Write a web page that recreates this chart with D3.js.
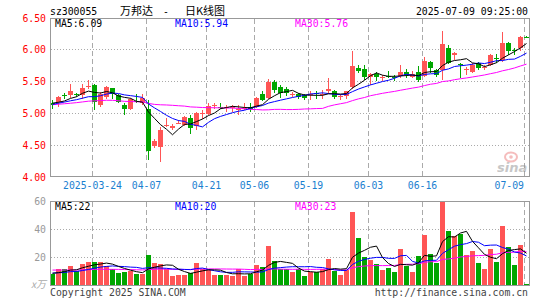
<!DOCTYPE html>
<html>
<head>
<meta charset="utf-8">
<script src="https://cdn.jsdelivr.net/npm/d3@7"></script>
<style>
body { margin: 0; background: #fff; }
svg text { font-family: "DejaVu Sans Mono", monospace; font-size: 9.8px; }
</style>
</head>
<body>
<script>
// trading days shown (2025)
var dates = ["03-13","03-14","03-17","03-18","03-19","03-20","03-21","03-24","03-25","03-26",
    "03-27","03-28","03-31","04-01","04-02","04-03","04-07","04-08","04-09","04-10",
    "04-11","04-14","04-15","04-16","04-17","04-18","04-21","04-22","04-23","04-24",
    "04-25","04-28","04-29","04-30","05-06","05-07","05-08","05-09","05-12","05-13",
    "05-14","05-15","05-16","05-19","05-20","05-21","05-22","05-23","05-26","05-27",
    "05-28","05-29","05-30","06-03","06-04","06-05","06-06","06-09","06-10","06-11",
    "06-12","06-13","06-16","06-17","06-18","06-19","06-20","06-23","06-24","06-25",
    "06-26","06-27","06-30","07-01","07-02","07-03","07-04","07-07","07-08","07-09"];

var open = [5.16,5.17,5.28,5.28,5.30,5.28,5.41,5.43,5.13,5.25,
    5.39,5.28,5.12,5.06,5.18,5.15,5.07,4.48,4.47,4.80,
    4.76,4.83,4.82,4.92,4.79,4.99,4.99,5.12,5.10,5.09,
    5.08,5.06,5.07,5.09,5.10,5.29,5.23,5.49,5.40,5.38,
    5.29,5.30,5.275,5.28,5.31,5.29,5.34,5.34,5.255,5.27,
    5.40,5.70,5.68,5.56,5.61,5.555,5.575,5.565,5.58,5.64,
    5.57,5.635,5.58,5.79,5.67,5.67,6.02,5.91,5.77,5.675,
    5.635,5.78,5.70,5.75,5.86,5.83,6.09,5.99,6.01,6.195];

var high = [5.20,5.27,5.32,5.45,5.32,5.45,5.51,5.46,5.33,5.42,
    5.39,5.30,5.16,5.23,5.30,5.30,5.20,4.60,4.78,4.92,
    4.83,4.89,4.95,4.97,5.02,5.05,5.15,5.16,5.15,5.125,
    5.12,5.12,5.15,5.15,5.245,5.34,5.53,5.52,5.43,5.40,
    5.33,5.31,5.30,5.34,5.35,5.36,5.54,5.36,5.29,5.35,
    5.97,5.745,5.745,5.625,5.635,5.60,5.66,5.60,5.745,5.69,
    5.65,5.74,5.88,5.81,5.69,6.28,6.06,5.96,5.78,5.72,
    5.78,5.80,5.75,5.92,5.92,6.27,6.11,6.02,6.20,6.20];

var low = [5.06,5.09,5.22,5.23,5.25,5.22,5.38,5.04,5.09,5.22,
    5.22,5.15,4.97,5.04,5.15,5.13,4.26,4.45,4.23,4.78,
    4.74,4.83,4.80,4.67,4.73,4.91,4.97,5.07,5.06,5.02,
    5.02,4.97,5.05,5.01,5.08,5.18,5.22,5.31,5.24,5.27,
    5.25,5.22,5.21,5.21,5.22,5.22,5.29,5.22,5.21,5.22,
    5.38,5.625,5.52,5.43,5.495,5.495,5.54,5.505,5.55,5.55,
    5.55,5.49,5.57,5.62,5.57,5.52,5.76,5.83,5.54,5.60,
    5.62,5.67,5.67,5.74,5.78,5.80,5.90,5.90,5.97,6.18];

var close = [5.12,5.25,5.27,5.34,5.29,5.39,5.42,5.17,5.29,5.41,
    5.29,5.17,5.06,5.22,5.17,5.23,4.40,4.56,4.73,4.81,
    4.80,4.84,4.93,4.76,5.00,5.00,5.11,5.13,5.09,5.10,
    5.09,5.07,5.08,5.07,5.23,5.20,5.49,5.36,5.31,5.31,
    5.30,5.255,5.235,5.29,5.30,5.30,5.375,5.245,5.26,5.34,
    5.74,5.66,5.56,5.61,5.56,5.565,5.57,5.56,5.64,5.59,
    5.61,5.515,5.81,5.70,5.60,6.08,5.78,5.94,5.76,5.685,
    5.75,5.71,5.72,5.90,5.85,6.10,5.97,5.98,6.19,6.19];

// volume, x10k
var volume = [7.9,11.4,11.4,13.8,9.8,15.2,16.7,16.7,16.4,13.3,
    11.4,8.6,9.5,10.2,7.9,7.9,21.7,15.7,15.0,11.4,
    6.7,7.4,7.4,8.6,15.7,11.4,11.0,7.4,7.4,7.4,
    6.7,11.4,6.7,7.9,14.5,12.9,28.1,17.4,11.2,11.2,
    9.3,11.4,6.4,9.3,9.3,11.4,18.6,10.2,7.1,11.0,
    52.1,33.6,20.0,18.1,15.2,11.0,12.4,9.5,25.7,13.8,
    9.5,21.0,36.0,22.1,15.5,60.2,38.8,34.8,36.4,21.4,
    24.5,15.7,11.4,26.0,16.4,42.4,27.1,14.5,28.6,0.7];

// days before 03-13, not drawn, only feed the moving averages (estimated from the MA lines)
var prevCloses = [5.02,5.06,5.08,5.03,5.05,5.07,5.01,5.18,5.25,5.32,
    5.36,5.34,5.30,5.28,5.26,5.15,5.02,4.92,4.90,4.96,
    5.04,5.10,5.14,5.12,5.16,5.18,5.17,5.14,5.16];
var prevVolumes = [12.5,10.8,14.2,9.6,11.3,13.0,10.1,12.4,15.8,11.7,
    9.2,13.5,10.6,12.0,11.1,14.6,10.3,9.8,12.9,10.4,
    8.7,9.5,7.8,8.9,8.2,9.1,7.6,8.4,8.8];

var tickDates = ["03-24","04-07","04-21","05-06","05-19","06-03","06-16","07-09"];
var tickLabels = ["2025-03-24","04-07","04-21","05-06","05-19","06-03","06-16","07-09"];
var priceTicks = [4.00, 4.50, 5.00, 5.50, 6.00, 6.50];
var volumeTicks = [20, 40, 60];

window.onload = function() {
    draw();
};

function movingAverage(prev, values, n) {
    var all = prev.concat(values);
    return values.map(function(v, i) {
        var end = prev.length + i + 1;
        return d3.mean(all.slice(end - n, end));
    });
}

function draw() {

    var red = "#ff5555",
        green = "#00a600",
        grid = "#aaaaaa";

    var svg = d3.select("body")
        .append("svg")
        .attr("width", 545)
        .attr("height", 300);

    var x = d3.scaleBand()
        .domain(dates)
        .range([50, 530]);

    var yPrice = d3.scaleLinear()
        .domain([4, 6.5])
        .range([177, 17]);

    var yVol = d3.scaleLinear()
        .domain([0, 60])
        .range([285, 201]);

    var barW = x.bandwidth() - 1;

    var data = dates.map(function(d, i) {
        return {date: d, open: open[i], high: high[i], low: low[i], close: close[i], volume: volume[i]};
    });

    function color(d) { return d.close >= d.open ? red : green; }

    // header
    svg.append("text").attr("x", 50).attr("y", 15).text("sz300055");
    svg.append("text").attr("x", 120).attr("y", 14.5)
        .style("font-family", "'Noto Sans CJK SC'").style("font-size", "11px")
        .text("万邦达");
    svg.append("text").attr("x", 163).attr("y", 15).text("-");
    svg.append("text").attr("x", 185).attr("y", 14.5)
        .style("font-family", "'Noto Sans CJK SC'").style("font-size", "11px")
        .text("日K线图");
    svg.append("text").attr("x", 528).attr("y", 15)
        .attr("text-anchor", "end")
        .text("2025-07-09 09:25:00");

    // horizontal gridlines
    svg.selectAll(".pgrid")
        .data(priceTicks.filter(function(v) { return v > 4 && v < 6.5; }))
        .enter().append("line")
        .attr("x1", 51).attr("x2", 529)
        .attr("y1", function(v) { return Math.round(yPrice(v)) + 0.5; })
        .attr("y2", function(v) { return Math.round(yPrice(v)) + 0.5; })
        .style("stroke", grid)
        .style("stroke-dasharray", "1,2");

    svg.selectAll(".vgrid")
        .data(volumeTicks.filter(function(v) { return v < 60; }))
        .enter().append("line")
        .attr("x1", 51).attr("x2", 529)
        .attr("y1", function(v) { return Math.round(yVol(v)) + 0.5; })
        .attr("y2", function(v) { return Math.round(yVol(v)) + 0.5; })
        .style("stroke", grid)
        .style("stroke-dasharray", "1,2");

    // vertical dashed gridlines in both panels
    [[19, 176], [202, 285]].forEach(function(r) {
        svg.selectAll(null)
            .data(tickDates)
            .enter().append("line")
            .attr("x1", function(d) { return x(d) + 0.5; })
            .attr("x2", function(d) { return x(d) + 0.5; })
            .attr("y1", r[0]).attr("y2", r[1])
            .style("stroke", grid)
            .style("stroke-dasharray", "5,3");
    });

    // sina watermark
    var mark = svg.append("g").attr("opacity", 0.55);
    mark.append("ellipse").attr("cx", 511).attr("cy", 157).attr("rx", 6).attr("ry", 4.5)
        .style("fill", "none").style("stroke", "#e88").style("stroke-width", 2);
    mark.append("circle").attr("cx", 511).attr("cy", 157).attr("r", 1.8).style("fill", "#e88");
    mark.append("text").attr("x", 497).attr("y", 172)
        .style("font-family", "'DejaVu Sans'").style("font-size", "13px")
        .style("font-weight", "bold").style("font-style", "italic")
        .style("fill", "#999").text("sina");

    // candles
    var candle = svg.selectAll(".candle")
        .data(data)
        .enter().append("g")
        .attr("class", "candle")
        .style("shape-rendering", "crispEdges");

    candle.append("rect")
        .attr("x", function(d) { return x(d.date) + 2; })
        .attr("width", 1)
        .attr("y", function(d) { return yPrice(d.high); })
        .attr("height", function(d) { return Math.max(1, yPrice(d.low) - yPrice(d.high)); })
        .style("fill", color);

    candle.append("rect")
        .attr("x", function(d) { return x(d.date); })
        .attr("width", barW)
        .attr("y", function(d) { return yPrice(Math.max(d.open, d.close)); })
        .attr("height", function(d) { return Math.max(1, Math.abs(yPrice(d.open) - yPrice(d.close))); })
        .style("fill", color);

    // volume bars
    svg.selectAll(".bar")
        .data(data)
        .enter().append("rect")
        .attr("class", "bar")
        .attr("x", function(d) { return x(d.date); })
        .attr("width", barW)
        .attr("y", function(d) { return yVol(d.volume); })
        .attr("height", function(d) { return yVol(0) - yVol(d.volume); })
        .style("fill", color)
        .style("shape-rendering", "crispEdges");

    // moving averages
    var maColors = {5: "#000000", 10: "#0000ff", 30: "#ff00ff"};
    var priceMA = {}, volMA = {};

    [5, 10, 30].forEach(function(n) {
        priceMA[n] = movingAverage(prevCloses, close, n);
        volMA[n] = movingAverage(prevVolumes, volume, n);
    });

    [30, 10, 5].forEach(function(n) {
        var linePrice = d3.line()
            .x(function(v, i) { return x(dates[i]) + 2.5; })
            .y(function(v) { return yPrice(v); });
        var lineVol = d3.line()
            .x(function(v, i) { return x(dates[i]) + 2.5; })
            .y(function(v) { return yVol(v); });

        svg.append("path").attr("d", linePrice(priceMA[n]))
            .style("fill", "none").style("stroke", maColors[n]).style("stroke-width", 1);
        svg.append("path").attr("d", lineVol(volMA[n]))
            .style("fill", "none").style("stroke", maColors[n]).style("stroke-width", 1);
    });

    // panel frames
    svg.append("rect").attr("x", 50.5).attr("y", 18.5).attr("width", 479).attr("height", 158)
        .style("fill", "none").style("stroke", "#999");
    svg.append("rect").attr("x", 50.5).attr("y", 201.5).attr("width", 479).attr("height", 84)
        .style("fill", "none").style("stroke", "#999");

    // MA legends
    var last = dates.length - 1;
    [5, 10, 30].forEach(function(n, k) {
        svg.append("text").attr("x", 55 + k * 120).attr("y", 27)
            .style("fill", maColors[n])
            .text("MA" + n + ":" + priceMA[n][last].toFixed(2));
        svg.append("text").attr("x", 55 + k * 120).attr("y", 210)
            .style("fill", maColors[n])
            .text("MA" + n + ":" + Math.floor(volMA[n][last]));
    });

    // price axis labels
    svg.selectAll(".plabel")
        .data(priceTicks)
        .enter().append("text")
        .attr("x", 46)
        .attr("y", function(v) { return Math.max(yPrice(v), 18.5) + 3.5; })
        .attr("text-anchor", "end")
        .style("fill", "#ff0000")
        .text(function(v) { return v.toFixed(2); });

    // volume axis labels
    svg.selectAll(".vlabel")
        .data(volumeTicks)
        .enter().append("text")
        .attr("x", 46)
        .attr("y", function(v) { return yVol(v) + 3.5; })
        .attr("text-anchor", "end")
        .style("fill", "#999")
        .text(function(v) { return v; });

    svg.append("text").attr("x", 46).attr("y", 288)
        .attr("text-anchor", "end")
        .style("fill", "#aaa").style("font-style", "italic")
        .style("font-family", "'Noto Sans CJK SC'").style("font-size", "10px")
        .text("x万");

    // date labels
    svg.selectAll(".xlabel")
        .data(tickDates)
        .enter().append("text")
        .attr("x", function(d, i) { return x(d) + (i == tickDates.length - 1 ? 0 : 0.5); })
        .attr("y", 189)
        .attr("text-anchor", function(d, i) { return i == tickDates.length - 1 ? "end" : "middle"; })
        .style("fill", "#1a80d0")
        .text(function(d, i) { return tickLabels[i]; });

    // footer
    svg.append("text").attr("x", 50).attr("y", 295.5)
        .style("fill", "#444").text("Copyright 2025 SINA.COM");
    svg.append("text").attr("x", 528).attr("y", 295.5)
        .attr("text-anchor", "end")
        .style("fill", "#444").text("http://finance.sina.com.cn");
}
</script>
</body>
</html>
